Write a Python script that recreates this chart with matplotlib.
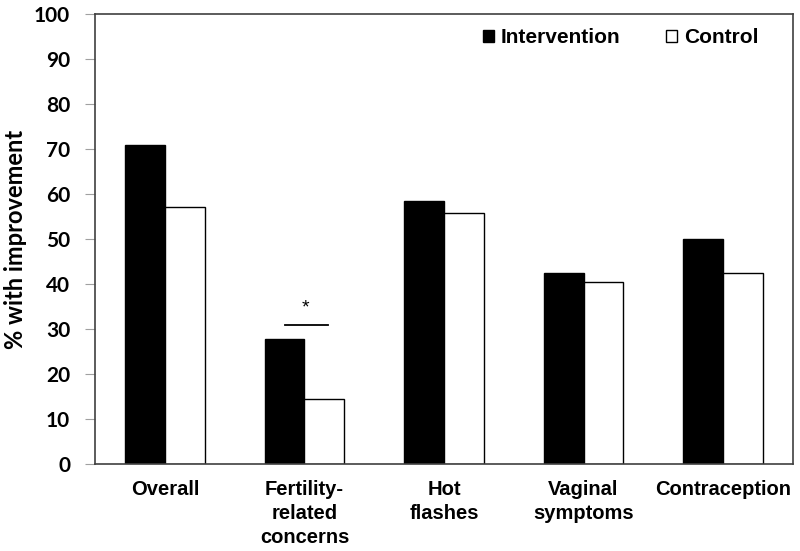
import matplotlib.pyplot as plt
import numpy as np

categories = ['Overall', 'Fertility-\nrelated\nconcerns', 'Hot\nflashes',
              'Vaginal\nsymptoms', 'Contraception']
intervention = [70.9, 27.9, 58.5, 42.5, 50.1]
control = [57.2, 14.6, 55.7, 40.6, 42.5]
yticks = [0, 10, 20, 30, 40, 50, 60, 70, 80, 90, 100]

# significance marker for fertility-related concerns
sig_y = 30.9
sig_star = '*'

fig = plt.figure(figsize=(8, 5.51), dpi=100)
ax = fig.add_axes([0.119, 0.157, 0.872, 0.818])

x = np.arange(len(categories))
w = 0.286
ax.bar(x - w/2, intervention, w, color='black', edgecolor='black', linewidth=1,
       label='Intervention')
ax.bar(x + w/2, control, w, color='white', edgecolor='black', linewidth=1,
       label='Control')

# significance line and star
ax.plot([1 - 0.14, 1 + 0.17], [sig_y, sig_y], color='black', linewidth=1.3)
ax.text(1.005, sig_y + 2.0, sig_star, ha='center', va='bottom', fontsize=14,
        family='Liberation Sans')

ax.set_xlim(-0.5, len(categories) - 0.5)
ax.set_ylim(0, 100)
ax.set_yticks(yticks)
ax.set_yticklabels([str(t) for t in yticks], fontsize=15, fontweight='bold',
                   family='Lato')
ax.set_xticks(x)
ax.set_xticklabels(categories, fontsize=14.5, fontweight='bold',
                   family='Liberation Sans', linespacing=1.35)
ax.tick_params(axis='x', length=0, pad=11)
ax.tick_params(axis='y', length=7, color='#a0a0a0', pad=11)

ax.set_ylabel('% with improvement', fontsize=17, fontweight='bold',
              family='Lato')
ax.yaxis.set_label_coords(-0.098, 0.5)

for s in ax.spines.values():
    s.set_color('#404040')
    s.set_linewidth(1.2)

ax.legend(loc='center', bbox_to_anchor=(0.753, 0.947), ncol=2, frameon=False,
          prop={'family': 'Liberation Sans', 'weight': 'bold', 'size': 15},
          handlelength=0.55, handleheight=0.55, handletextpad=0.3,
          columnspacing=2.2)

plt.savefig('out.png', dpi=100)
